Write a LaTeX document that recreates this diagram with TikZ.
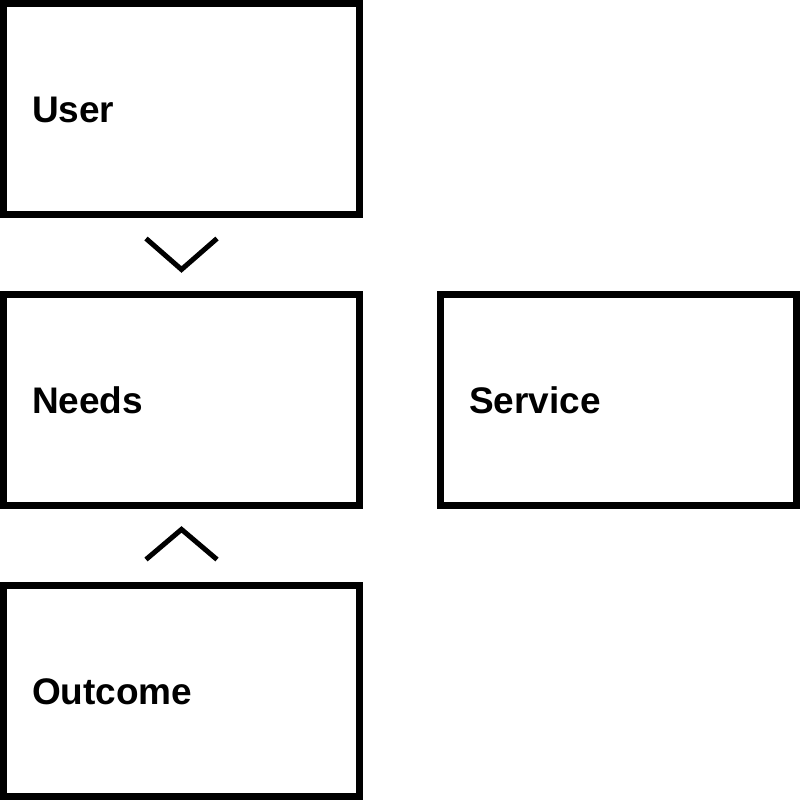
\documentclass[tikz,border=0pt]{standalone}
\usepackage{fontspec}
\setmainfont{Liberation Sans}
\usetikzlibrary{positioning, calc}

\begin{document}
\begin{tikzpicture}[x=1pt, y=-1pt,
    box/.style={rectangle, draw, line width=7pt, minimum width=356pt, minimum height=211pt,
        inner xsep=28.5pt, text width=299pt, align=left, text height=26.5pt, text depth=0pt,
        font=\fontsize{37}{40}\selectfont\bfseries},
    chevron/.style={line width=5pt, miter limit=10}]
    \useasboundingbox (0,0) rectangle (800,800);

    \node[box] (user) at (181.5,109) {User};
    \node[box, below=73pt of user] (needs) {Needs};
    \node[box, right=74pt of needs] (service) {Service};
    \node[box, below=73pt of needs] (outcome) {Outcome};

    \draw[chevron] ($(user.south)+(-35.5,20.5)$) -- ($(user.south)+(0,51.5)$) -- ($(user.south)+(35.5,20.5)$);
    \draw[chevron] ($(needs.south)+(-35.5,50.5)$) -- ($(needs.south)+(0,20.4)$) -- ($(needs.south)+(35.5,50.5)$);
\end{tikzpicture}
\end{document}
